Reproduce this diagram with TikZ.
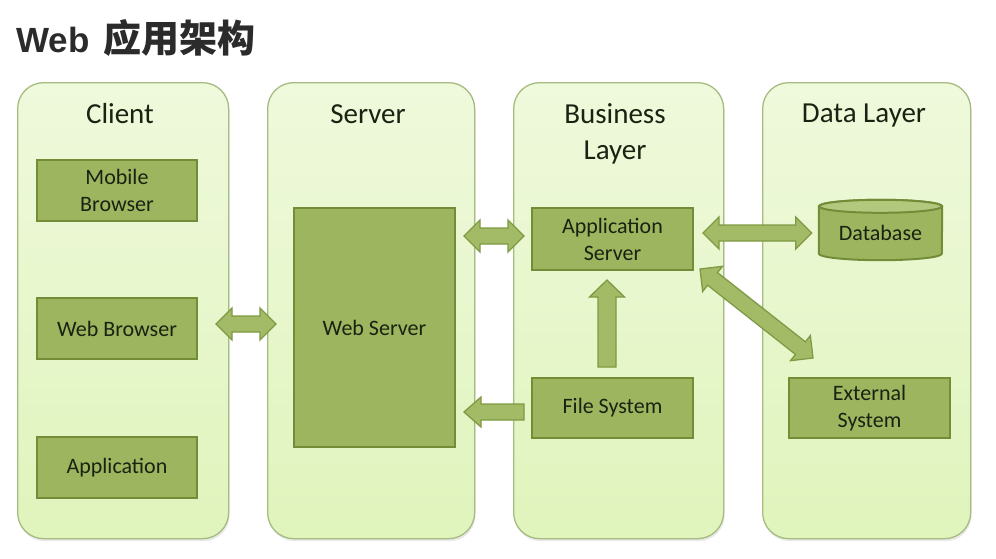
\documentclass[tikz,border=0pt]{standalone}
\usepackage{fontspec}
\setmainfont{Carlito}
\newfontfamily\titlefont{Liberation Sans}
\newfontfamily\cjkfont{Noto Sans CJK SC}
\usetikzlibrary{calc,shadows}

\definecolor{panelborder}{HTML}{A6BC82}
\definecolor{paneltop}{HTML}{EFF9DC}
\definecolor{panelbot}{HTML}{E0F4BC}
\definecolor{boxfill}{HTML}{9DB55E}
\definecolor{boxborder}{HTML}{738C38}
\definecolor{cyltopfill}{HTML}{B2C87C}
\definecolor{arrowfill}{HTML}{A3BB66}
\definecolor{arrowborder}{HTML}{7F9A44}
\definecolor{txt}{HTML}{1A2212}
\definecolor{titletxt}{HTML}{2B2B2B}

\newcommand\dblarrow[2]{%
\draw[blk] (#1)
 -- ($(#1)!16pt!(#2)!16pt!90:(#2)$)
 -- ($(#1)!16pt!(#2)!8pt!90:(#2)$)
 -- ($(#2)!16pt!(#1)!8pt!-90:(#1)$)
 -- ($(#2)!16pt!(#1)!16pt!-90:(#1)$)
 -- (#2)
 -- ($(#2)!16pt!(#1)!16pt!90:(#1)$)
 -- ($(#2)!16pt!(#1)!8pt!90:(#1)$)
 -- ($(#1)!16pt!(#2)!8pt!-90:(#2)$)
 -- ($(#1)!16pt!(#2)!16pt!-90:(#2)$)
 -- cycle;}

\newcommand\sglarrow[4]{% tail, tip, shaft half width, head half width
\draw[blk] (#2)
 -- ($(#2)!17pt!(#1)!#4!90:(#1)$)
 -- ($(#2)!17pt!(#1)!#3!90:(#1)$)
 -- ($(#1)!#3!-90:(#2)$)
 -- ($(#1)!#3!90:(#2)$)
 -- ($(#2)!17pt!(#1)!#3!-90:(#1)$)
 -- ($(#2)!17pt!(#1)!#4!-90:(#1)$)
 -- cycle;}

\begin{document}
\begin{tikzpicture}[x=1pt,y=-1pt,
 panel/.style={draw=panelborder, line width=1.3pt, rounded corners=26pt,
   top color=paneltop, bottom color=panelbot,
   drop shadow={opacity=0.18,shadow xshift=1pt,shadow yshift=-2.5pt},
   inner sep=0pt, anchor=north west},
 box/.style={draw=boxborder, line width=2pt, fill=boxfill, text=txt,
   font=\fontsize{22}{27}\selectfont, align=center, inner sep=0pt},
 ptitle/.style={text=txt, font=\fontsize{29}{36}\selectfont, align=center, inner sep=0pt},
 blk/.style={fill=arrowfill, draw=arrowborder, line width=1.3pt, line join=miter},
 cyl/.style={draw=boxborder, line width=2pt, fill=boxfill},
 cyltop/.style={draw=boxborder, line width=2pt, fill=cyltopfill}
]
\useasboundingbox (0,0) rectangle (996,558);
\fill[white] (0,0) rectangle (996,558);

% title
\node[anchor=base west, inner sep=0pt, text=titletxt] (title) at (16,52)
  {\titlefont\bfseries\fontsize{35}{40}\selectfont Web\hspace{14pt}{\cjkfont\bfseries\fontsize{38}{40}\selectfont 应用架构}};

% panels
\node[panel, minimum width=211, minimum height=456] (pclient) at (17,82) {};
\node[panel, minimum width=207, minimum height=456] (pserver) at (267,82) {};
\node[panel, minimum width=210, minimum height=456] (pbus) at (513,82) {};
\node[panel, minimum width=208, minimum height=456] (pdata) at (762,82) {};

% panel titles
\node[ptitle, anchor=base] (tclient) at (120,123) {Client};
\node[ptitle, anchor=base] (tserver) at (368,123) {Server};
\node[ptitle, anchor=north] (tbus) at (615,103) {Business\\Layer};
\node[ptitle, anchor=base] (tdata) at (864,122) {Data Layer};

% boxes
\node[box, minimum width=160, minimum height=61] (mb) at (117,190) {Mobile\\Browser};
\node[box, minimum width=160, minimum height=61] (wb) at (117,328.5) {Web Browser};
\node[box, minimum width=160, minimum height=61] (app) at (117,467.5) {Application};
\node[box, minimum width=161, minimum height=239] (ws) at (374.5,327.5) {Web Server};
\node[box, minimum width=161, minimum height=62] (as) at (612.5,239) {Application\\Server};
\node[box, minimum width=161, minimum height=60] (fs) at (612.5,408) {File System};
\node[box, minimum width=161, minimum height=60] (es) at (869.5,408) {External\\System};

% database cylinder
\node[inner sep=0pt, minimum width=123, minimum height=60] (db) at (880.5,230) {};
\draw[cyl] ($(db.north west)+(0,6.5)$) -- ($(db.south west)+(0,-6.5)$)
  arc[start angle=180, end angle=0, x radius=61.5, y radius=6.5]
  -- ($(db.north east)+(0,6.5)$)
  arc[start angle=0, end angle=-180, x radius=61.5, y radius=6.5] -- cycle;
\draw[cyltop] ($(db.north)+(0,6.5)$) ellipse [x radius=61.5, y radius=6.5];
\node[text=txt, font=\fontsize{22}{27}\selectfont, inner sep=0pt] (dbl) at (880.5,233) {Database};

% arrow end points
\coordinate (a1s) at ($(wb.east)+(18,-4.5)$);
\coordinate (a1e) at ($(ws.west)+(-17,-3.5)$);
\coordinate (a2s) at ($(ws.east |- as.west)+(8,-3)$);
\coordinate (a2e) at ($(as.west)+(-7,-3)$);
\coordinate (a3s) at ($(as.east)+(9,-6)$);
\coordinate (a3e) at ($(db.west)+(-7,3)$);
\coordinate (a4s) at ($(as.south east)+(6,-2)$);
\coordinate (a4e) at ($(es.north west)+(25,-19)$);
\coordinate (a5s) at ($(fs.north)+(-5.5,-10)$);
\coordinate (a5e) at ($(as.south)+(-5.5,9)$);
\coordinate (a6s) at ($(fs.west)+(-7,4)$);
\coordinate (a6e) at ($(ws.east |- fs.west)+(8,4)$);

\dblarrow{a1s}{a1e}
\dblarrow{a2s}{a2e}
\dblarrow{a3s}{a3e}
\dblarrow{a4s}{a4e}
\sglarrow{a5s}{a5e}{9pt}{17.5pt}
\sglarrow{a6s}{a6e}{8pt}{15pt}
\end{tikzpicture}
\end{document}
